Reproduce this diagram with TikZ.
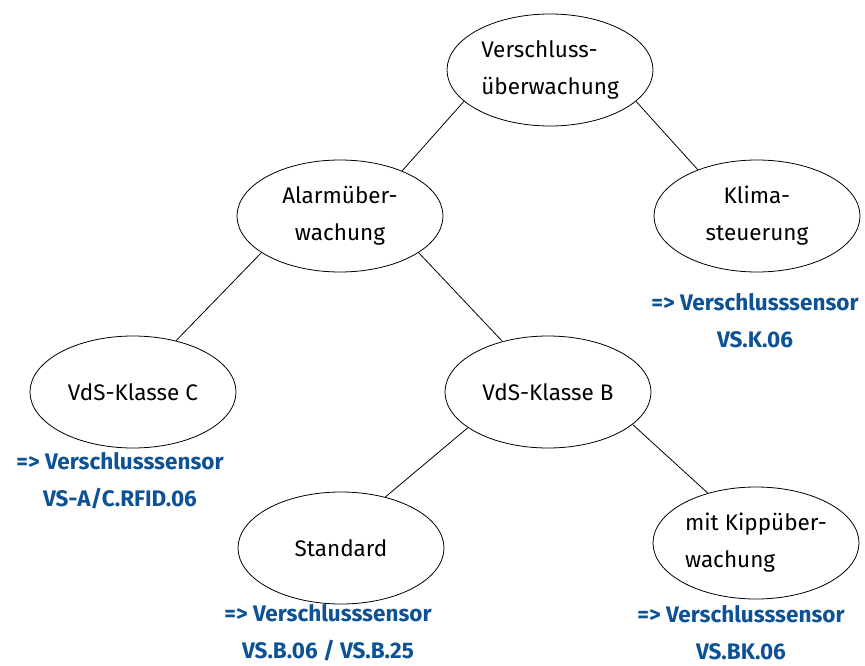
\documentclass[tikz,border=0pt]{standalone}
\usepackage{fontspec}
\setmainfont{Fira Sans}
\usepackage{xcolor}
\usetikzlibrary{shapes.geometric}
\usetikzlibrary{positioning}
\definecolor{sensorblue}{RGB}{14,82,150}
\tikzset{
x=1pt, y=-1pt, % pixel coordinates, y grows downwards
every node/.style={font=\fontsize{22.5}{37}\selectfont},
topic/.style={draw, ellipse, line width=0.8pt, minimum width=206pt, minimum height=112pt, inner sep=0pt, align=center}, % the ellipses
sensor/.style={text=sensorblue, font=\bfseries\fontsize{22.5}{37}\selectfont, align=center}, % blue sensor hints
}

\begin{document}
\begin{tikzpicture}
            \useasboundingbox (0,0) rectangle (865,666);

            \node[topic, align=left] (vs) at (550,70) {Verschluss-\\überwachung};
            \node[topic] (alarm) at (340,216) {Alarmüber-\\wachung};
            \node[topic] (klima) at (757,216) {Klima-\\steuerung};
            \node[topic] (vdsc) at (133,392) {VdS-Klasse C};
            \node[topic] (vdsb) at (548,392) {VdS-Klasse B};
            \node[topic] (std) at (341,548) {Standard};
            \node[topic, align=left] (kipp) at (756,543) {mit Kippüber-\\wachung};

            \node[sensor] (sklima) at (755,321) {=> Verschlusssensor\\VS.K.06};
            \node[sensor] (svdsc) at (120,481) {=> Verschlusssensor\\VS-A/C.RFID.06};
            \node[sensor] (sstd) at (328,633) {=> Verschlusssensor\\VS.B.06 / VS.B.25};
            \node[sensor] (skipp) at (741,633) {=> Verschlusssensor\\VS.BK.06};

            \draw[line width=0.8pt]
                (vs.200) -- (alarm.36)
                (vs.340) -- (klima.142)
                (alarm.205) -- (vdsc.50)
                (alarm.335) -- (vdsb.132)
                (vdsb.204) -- (std.49)
                (vdsb.339) -- (kipp.134)
                ;
        \end{tikzpicture}
\end{document}
